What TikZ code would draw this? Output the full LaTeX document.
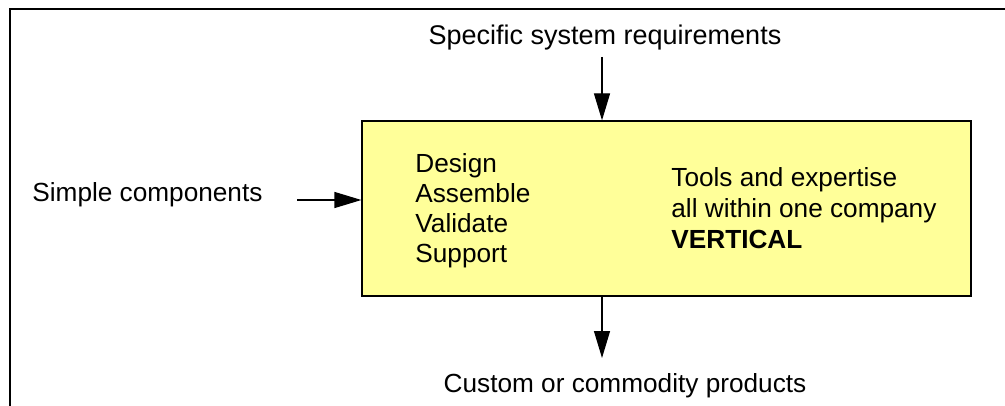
\documentclass[tikz,border=0pt]{standalone}
\usepackage{fontspec}
\setmainfont{Liberation Sans}
\usetikzlibrary{arrows.meta}
\definecolor{boxfill}{HTML}{FFFF99}
\tikzset{
  lbl/.style={inner sep=0pt, font=\fontsize{13.1}{15}\selectfont},
  blockbox/.style={draw=black, line width=0.6pt, fill=boxfill,
    minimum width=304.5pt, minimum height=87.5pt, inner sep=0pt},
  arr/.style={line width=0.6pt, -{Triangle[length=13.5pt,width=8pt]}},
  frameline/.style={line width=1pt}
}
\begin{document}
\begin{tikzpicture}[x=0.5pt,y=-0.5pt]
\useasboundingbox (0,0) rectangle (1005,406);
% open frame (left and top edges)
\draw[frameline] (10,406) -- (10,9) -- (1005,9);

% central block
\node[blockbox] (box) at (666.5,208.5) {};
\node[lbl, anchor=north west, align=left,
      font=\fontsize{13.1}{15}\selectfont] (acts) at (415,153.2)
  {Design\\Assemble\\Validate\\Support};
\node[lbl, anchor=north west, align=left,
      font=\fontsize{13.1}{15.5}\selectfont] (tools) at (671,167.2)
  {Tools and expertise\\all within one company\\\textbf{VERTICAL}};

% labels outside the block
\node[lbl, anchor=base, font=\fontsize{13.5}{15}\selectfont] (req) at (605,45)
  {Specific system requirements};
\node[lbl, anchor=base west] (simple) at (32,202) {Simple components};
\node[lbl, anchor=base] (prod) at (625,392) {Custom or commodity products};

% connector end points
\coordinate (reqend) at (602,57);
\coordinate (simend) at (297,200);
\coordinate (prodend) at (602,358);

% connectors
\draw[arr] (reqend) -- (box.north -| reqend);
\draw[arr] (simend) -- (box.west |- simend);
\draw[arr] (box.south -| prodend) -- (prodend);
\end{tikzpicture}
\end{document}
